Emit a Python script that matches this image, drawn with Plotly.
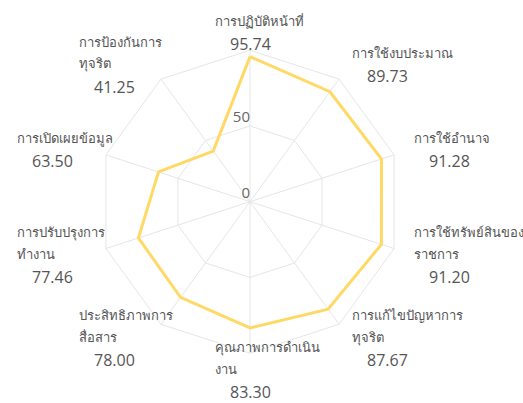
import plotly.graph_objects as go

categories = [
    "การปฏิบัติหน้าที่",
    "การใช้งบประมาณ",
    "การใช้อำนาจ",
    "การใช้ทรัพย์สินของราชการ",
    "การแก้ไขปัญหาการทุจริต",
    "คุณภาพการดำเนินงาน",
    "ประสิทธิภาพการสื่อสาร",
    "การปรับปรุงการทำงาน",
    "การเปิดเผยข้อมูล",
    "การป้องกันการทุจริต",
]
scores = [95.74, 89.73, 91.28, 91.20, 87.67, 83.30, 78.00, 77.46, 63.50, 41.25]
label_lines = [
    ["การปฏิบัติหน้าที่"],
    ["การใช้งบประมาณ"],
    ["การใช้อำนาจ"],
    ["การใช้ทรัพย์สินของ", "ราชการ"],
    ["การแก้ไขปัญหาการ", "ทุจริต"],
    ["คุณภาพการดำเนิน", "งาน"],
    ["ประสิทธิภาพการ", "สื่อสาร"],
    ["การปรับปรุงการ", "ทำงาน"],
    ["การเปิดเผยข้อมูล"],
    ["การป้องกันการ", "ทุจริต"],
]
radial_ticks = [0, 50]

W, H = 523, 403
cx, cy, R = 250, 201.7, 151.5

# label block anchors (left x, first-line centre y) in pixels
label_pos = [(213, 21), (350, 53), (412, 138), (412, 232), (350, 315),
             (213, 347), (77, 315), (15, 232), (15, 138), (77, 42)]

fig = go.Figure()
fig.add_trace(go.Scatterpolar(
    r=scores + [scores[0]],
    theta=categories + [categories[0]],
    mode="lines",
    line=dict(color="#FFD966", width=3),
    hoverinfo="skip",
    showlegend=False,
))
fig.add_trace(go.Scatterpolar(
    r=[max(t, 0.01) for t in radial_ticks],
    theta=[categories[0]] * len(radial_ticks),
    mode="text",
    text=[str(t) for t in radial_ticks],
    textposition="top left",
    textfont=dict(family="Open Sans", size=15, color="#666666"),
    cliponaxis=False,
    hoverinfo="skip",
    showlegend=False,
))

annotations = []
for lines, val, (lx, ly) in zip(label_lines, scores, label_pos):
    y = ly
    for ln in lines:
        annotations.append(dict(
            x=lx / W, y=1 - y / H, xref="paper", yref="paper",
            text=ln, showarrow=False, xanchor="left", yanchor="middle",
            font=dict(family="Noto Sans", size=13, color="#555555"),
        ))
        y += 21.5
    annotations.append(dict(
        x=(lx + 16) / W, y=1 - (y + 2) / H, xref="paper", yref="paper",
        text=f"{val:.2f}", showarrow=False, xanchor="left", yanchor="middle",
        font=dict(family="Open Sans", size=16, color="#555555"),
        borderpad=0,
    ))

fig.update_layout(
    width=W, height=H,
    margin=dict(l=0, r=0, t=0, b=0),
    paper_bgcolor="white",
    plot_bgcolor="white",
    showlegend=False,
    annotations=annotations,
    polar=dict(
        domain=dict(x=[(cx - R) / W, (cx + R) / W],
                    y=[1 - (cy + R) / H, 1 - (cy - R) / H]),
        bgcolor="white",
        gridshape="linear",
        radialaxis=dict(
            range=[0, 100], tickvals=[0, 50, 100], showticklabels=False,
            ticks="", showline=False, gridcolor="#E6E6E6", gridwidth=1,
        ),
        angularaxis=dict(
            rotation=90, direction="clockwise", showticklabels=False,
            ticks="", showline=True, linecolor="#E6E6E6", linewidth=1,
            gridcolor="#E6E6E6", gridwidth=1,
        ),
    ),
)

fig.write_html(
    "out.html",
    config={"displayModeBar": False},
    post_script="document.body.style.margin='0';document.body.style.overflow='hidden';",
)
